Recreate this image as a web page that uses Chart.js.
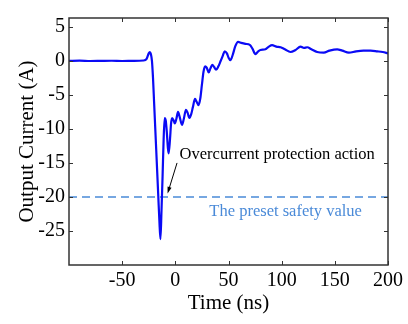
<!DOCTYPE html>
<html>
<head>
<meta charset="utf-8">
<script src="https://cdn.jsdelivr.net/npm/chart.js@4.4.1/dist/chart.umd.min.js"></script>
<style>
  html, body { margin: 0; padding: 0; background: #fff; }
  #wrap { width: 408px; height: 324px; }
</style>
</head>
<body>
<div id="wrap"><canvas id="currentChart" width="408" height="324"></canvas></div>
<script>
// measured output current (A) against time (ns)
const timeNs = [
  -100, -90, -80, -70, -60, -50, -40, -30, -27, -25, -24, -23, -22, -21, -20,
  -18, -16, -15, -14, -13, -12, -11, -10, -9, -8, -7, -6.3, -5, -4, -3,
  -1.5, -0.5, 1, 2.5, 4, 6.3, 8, 10, 11.5, 13.2, 15, 16.5, 18.5, 20, 21.8,
  23.5, 25, 26.5, 28, 29.5, 31.4, 33, 34.8, 36.5, 38.3, 40.5, 42.4, 44.5, 46.4, 48.5,
  50, 51.8, 54, 56.5, 59, 62, 65.9, 70, 72.5, 75.3, 78, 80, 84.7, 88, 91,
  95, 99, 103, 108.3, 113, 117.7, 121, 124, 128, 133.4, 139.6, 145, 152.2, 157, 163.2,
  170, 177, 183.6, 190, 195, 200
];
const currentA = [
  0, 0.03, -0.02, 0, 0.02, -0.02, 0, 0.05, 0.3, 1.1, 1.3, 1.0, 0, -2.5, -6,
  -13, -20, -23.5, -26.2, -22, -17, -11.5, -8.4, -8.8, -10.5, -12.8, -13.6, -11.5, -9.2, -8.4,
  -8.8, -9.2, -8.5, -7.5, -8.2, -9.4, -8.5, -7.2, -7.6, -8.4, -7.8, -6.8, -5.6, -6.0, -6.5,
  -5.5, -3.5, -1.6, -0.8, -1.0, -1.7, -1.1, -0.6, -0.9, -1.3, -0.8, -0.1, 0.7, 1.4, 1.1,
  0.5, 0.1, 0.9, 2.2, 2.8, 2.65, 2.5, 2.35, 1.8, 1.0, 1.4, 1.6, 1.7, 2.1, 2.3,
  2.1, 2.0, 1.7, 1.3, 1.6, 2.1, 1.9, 2.0, 1.7, 1.3, 1.2, 1.5, 1.7, 1.5, 1.2,
  1.4, 1.5, 1.5, 1.4, 1.3, 1.1
];

const safetyValue = -20;
const xTicks = [-50, 0, 50, 100, 150, 200];
const yTicks = [-25, -20, -15, -10, -5, 0, 5];

// annotation anchors in data units
const actionLabel = { text: 'Overcurrent protection action', x: 4, y: -13.8 };
const actionArrow = { fromX: 1.6, fromY: -15.0, toX: -7.3, toY: -19.5 };
const safetyLabel = { text: 'The preset safety value', x: 32, y: -22.2 };

const serif = '"Liberation Serif", "Times New Roman", serif';

// box around the plot with inward tick marks on all four sides
const frameTicks = {
  id: 'frameTicks',
  afterDraw(chart) {
    const { ctx, chartArea: a, scales } = chart;
    const len = 4;
    ctx.save();
    ctx.strokeStyle = '#333';
    ctx.lineWidth = 1;
    ctx.beginPath();
    xTicks.forEach(v => {
      const px = Math.round(scales.x.getPixelForValue(v)) + 0.5;
      ctx.moveTo(px, a.bottom); ctx.lineTo(px, a.bottom - len);
      ctx.moveTo(px, a.top); ctx.lineTo(px, a.top + len);
    });
    yTicks.forEach(v => {
      const py = Math.round(scales.y.getPixelForValue(v)) + 0.5;
      ctx.moveTo(a.left, py); ctx.lineTo(a.left + len, py);
      ctx.moveTo(a.right, py); ctx.lineTo(a.right - len, py);
    });
    ctx.stroke();
    ctx.lineWidth = 1.5;
    ctx.strokeRect(a.left, a.top, a.right - a.left, a.bottom - a.top);
    ctx.restore();
  }
};

const notes = {
  id: 'notes',
  afterDatasetsDraw(chart) {
    const { ctx, scales } = chart;
    const X = v => scales.x.getPixelForValue(v);
    const Y = v => scales.y.getPixelForValue(v);
    ctx.save();
    ctx.font = '16.5px ' + serif;
    ctx.textBaseline = 'middle';
    ctx.textAlign = 'left';
    ctx.fillStyle = '#000';
    ctx.fillText(actionLabel.text, X(actionLabel.x), Y(actionLabel.y));
    ctx.fillStyle = '#4a8ad8';
    ctx.fillText(safetyLabel.text, X(safetyLabel.x), Y(safetyLabel.y));

    // arrow pointing at the trip point
    const x1 = X(actionArrow.fromX), y1 = Y(actionArrow.fromY);
    const x2 = X(actionArrow.toX), y2 = Y(actionArrow.toY);
    const ang = Math.atan2(y2 - y1, x2 - x1);
    const head = 7;
    ctx.strokeStyle = '#000';
    ctx.fillStyle = '#000';
    ctx.lineWidth = 1;
    ctx.beginPath();
    ctx.moveTo(x1, y1);
    ctx.lineTo(x2 - Math.cos(ang) * 4, y2 - Math.sin(ang) * 4);
    ctx.stroke();
    ctx.beginPath();
    ctx.moveTo(x2, y2);
    ctx.lineTo(x2 - head * Math.cos(ang - 0.3), y2 - head * Math.sin(ang - 0.3));
    ctx.lineTo(x2 - head * Math.cos(ang + 0.3), y2 - head * Math.sin(ang + 0.3));
    ctx.closePath();
    ctx.fill();
    ctx.restore();
  }
};

new Chart(document.getElementById('currentChart'), {
  type: 'line',
  data: {
    datasets: [
      {
        label: 'Output current',
        data: timeNs.map((t, i) => ({ x: t, y: currentA[i] })),
        borderColor: '#0a0af5',
        borderWidth: 2.2,
        pointRadius: 0,
        cubicInterpolationMode: 'monotone',
        fill: false
      },
      {
        label: 'Safety value',
        data: [{ x: -100, y: safetyValue }, { x: 200, y: safetyValue }],
        borderColor: '#4a8ad8',
        borderWidth: 1.5,
        borderDash: [8, 5],
        pointRadius: 0,
        fill: false
      }
    ]
  },
  options: {
    responsive: false,
    animation: false,
    layout: { padding: { left: 6, right: 20, top: 18, bottom: 6 } },
    plugins: {
      legend: { display: false },
      tooltip: { enabled: false }
    },
    scales: {
      x: {
        type: 'linear',
        min: -100,
        max: 200,
        afterBuildTicks: s => { s.ticks = xTicks.map(v => ({ value: v })); },
        afterFit: s => { s.height = 53; },
        grid: { display: false, drawTicks: false },
        border: { display: false },
        ticks: { color: '#000', font: { family: serif, size: 20 }, padding: 4, maxRotation: 0 },
        title: { display: true, text: 'Time (ns)', color: '#000', font: { family: serif, size: 21 }, padding: { top: 2, bottom: 2 } }
      },
      y: {
        min: -30,
        max: 6.3,
        afterBuildTicks: s => { s.ticks = yTicks.map(v => ({ value: v })); },
        afterFit: s => { s.width = 63; },
        grid: { display: false, drawTicks: false },
        border: { display: false },
        ticks: { color: '#000', font: { family: serif, size: 20 }, padding: 4 },
        title: { display: true, text: 'Output Current (A)', color: '#000', font: { family: serif, size: 21 }, padding: { top: 9, bottom: 0 } }
      }
    }
  },
  plugins: [frameTicks, notes]
});
</script>
</body>
</html>
